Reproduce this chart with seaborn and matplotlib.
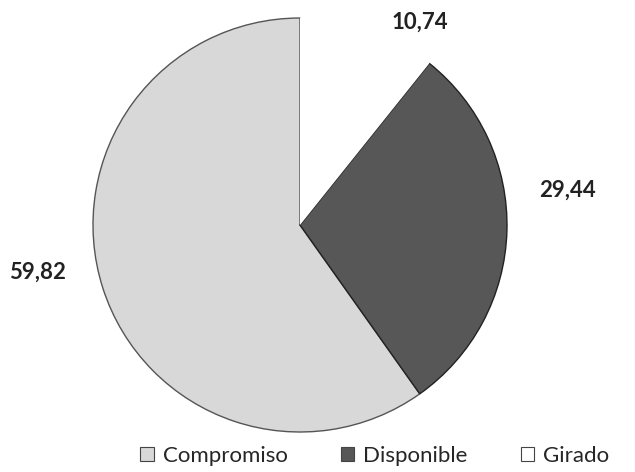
import matplotlib.pyplot as plt
import matplotlib.patches as mpatches
import seaborn as sns

categories = ['Compromiso', 'Disponible', 'Girado']
values = [59.82, 29.44, 10.74]
value_labels = [f'{v:.2f}'.replace('.', ',') for v in values]
# where each value label sits, in pie radius units
label_pos = [(-1.27, -0.23), (1.29, 0.17), (0.58, 0.98)]

sns.set_theme(style='white')
plt.rcParams['font.family'] = ['Lato', 'DejaVu Sans']

colors = sns.color_palette(['#d8d8d8', '#575757', '#ffffff'])
edges = ['#555555', '#222222', 'none']

fig = plt.figure(figsize=(6.35, 4.72), dpi=100)
ax = fig.add_axes([0, 0, 1, 1])

wedges, texts = ax.pie(values, labels=value_labels, colors=colors,
                       startangle=90, counterclock=True,
                       textprops={'fontsize': 16, 'fontweight': 'bold', 'color': '#222222'})
for w, ec in zip(wedges, edges):
    w.set_edgecolor(ec)
    w.set_linewidth(1.0)
for t, p in zip(texts, label_pos):
    t.set_position(p)
    t.set_ha('center')
    t.set_va('center')

ax.set_xlim(-300 / 207, 335 / 207)
ax.set_ylim(-(472 - 225) / 207, 225 / 207)
ax.set_aspect('auto')
ax.axis('off')

handles = [mpatches.Patch(facecolor=c, edgecolor='#444444', linewidth=0.8) for c in colors]
fig.legend(handles, categories, loc='lower center', ncol=3, frameon=False,
           fontsize=16, handlelength=0.6, handleheight=0.6, columnspacing=2.4,
           handletextpad=0.4, bbox_to_anchor=(0.59, -0.03))

fig.savefig('out.png', dpi=100)
